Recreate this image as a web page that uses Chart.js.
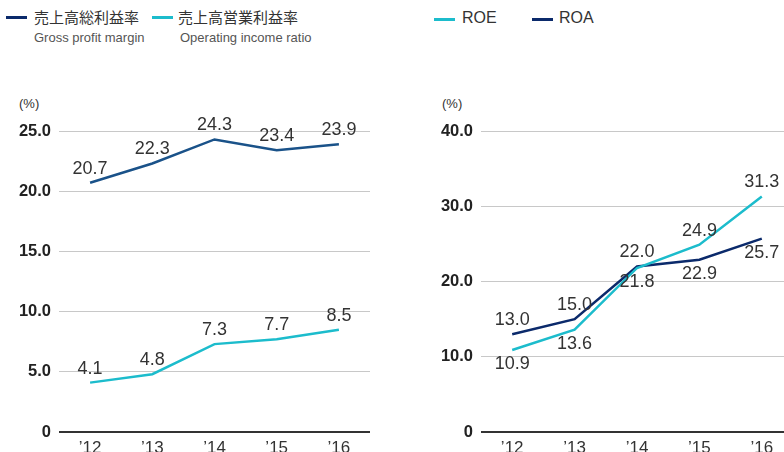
<!DOCTYPE html>
<html>
<head>
<meta charset="utf-8">
<script src="https://cdn.jsdelivr.net/npm/chart.js@4"></script>
<style>
  html, body { margin: 0; padding: 0; background: #fff; }
  body { width: 784px; height: 452px; overflow: hidden; position: relative;
         font-family: "Liberation Sans", Arial, sans-serif; color: #333; }
  canvas { position: absolute; top: 0; }
  .swatch { position: absolute; height: 3px; width: 21px; }
  .lbl { position: absolute; white-space: nowrap; }
  .jp { font-family: "Noto Sans CJK JP", sans-serif; font-size: 15px; color: #333; line-height: 18px; }
  .en { font-size: 13px; color: #555; line-height: 14px; }
  .unit { position: absolute; font-size: 13px; color: #333; }
</style>
</head>
<body>
<div class="swatch" style="left:6px;top:16px;background:#0b2a6b"></div>
<div class="lbl jp" style="left:34px;top:8px">売上高総利益率</div>
<div class="lbl en" style="left:34px;top:31px">Gross profit margin</div>
<div class="swatch" style="left:152px;top:16px;background:#1cbccc"></div>
<div class="lbl jp" style="left:178px;top:8px">売上高営業利益率</div>
<div class="lbl en" style="left:180px;top:31px">Operating income ratio</div>

<div class="swatch" style="left:434px;top:18px;background:#1cbccc"></div>
<div class="lbl" style="left:462px;top:9px;font-size:16px;color:#333">ROE</div>
<div class="swatch" style="left:532px;top:18px;background:#0b2a6b"></div>
<div class="lbl" style="left:559px;top:9px;font-size:16px;color:#333">ROA</div>

<div class="unit" style="left:19px;top:96px">(%)</div>
<div class="unit" style="left:442px;top:96px">(%)</div>

<canvas id="leftChart" width="372" height="470" style="left:0"></canvas>
<canvas id="rightChart" width="376" height="470" style="left:420px"></canvas>

<script>
const years = ['\u201912', '\u201913', '\u201914', '\u201915', '\u201916'];

const grossMargin = [20.7, 22.3, 24.3, 23.4, 23.9];
const operatingRatio = [4.1, 4.8, 7.3, 7.7, 8.5];
const roe = [10.9, 13.6, 21.8, 24.9, 31.3];
const roa = [13.0, 15.0, 22.0, 22.9, 25.7];

// where each value label sits relative to its point
const grossPos = ['above', 'above', 'above', 'above', 'above'];
const operatingPos = ['above', 'above', 'above', 'above', 'above'];
const roePos = ['below', 'below', 'below', 'above', 'above'];
const roaPos = ['above', 'above', 'above', 'below', 'below'];

const valueLabels = {
    id: 'valueLabels',
    afterDatasetsDraw(chart) {
        const ctx = chart.ctx;
        ctx.save();
        ctx.font = '18px "Liberation Sans", Arial, sans-serif';
        ctx.fillStyle = '#333';
        ctx.textAlign = 'center';
        chart.data.datasets.forEach((ds, i) => {
            const meta = chart.getDatasetMeta(i);
            meta.data.forEach((pt, j) => {
                const text = ds.data[j].toFixed(1);
                if (ds.labelPos[j] === 'above') {
                    ctx.textBaseline = 'bottom';
                    ctx.fillText(text, pt.x, pt.y - 5);
                } else {
                    ctx.textBaseline = 'top';
                    ctx.fillText(text, pt.x, pt.y + 5);
                }
            });
        });
        ctx.restore();
    }
};

function makeChart(id, datasets, max, step, yWidth, rightPad) {
    const ctx = document.getElementById(id).getContext('2d');
    return new Chart(ctx, {
        type: 'line',
        data: { labels: years, datasets: datasets },
        options: {
            responsive: false,
            animation: false,
            devicePixelRatio: 1,
            layout: { padding: { top: 131, right: rightPad, left: 0, bottom: 0 } },
            elements: { point: { radius: 0 }, line: { tension: 0, borderWidth: 2.5 } },
            plugins: { legend: { display: false }, tooltip: { enabled: false } },
            scales: {
                x: {
                    offset: true,
                    grid: { display: false, drawTicks: false },
                    border: { display: false },
                    ticks: { color: '#333', padding: 6, font: { size: 17, family: '"Liberation Sans", Arial, sans-serif' } },
                    afterFit: function (scale) { scale.height = 38; }
                },
                y: {
                    min: 0,
                    max: max,
                    border: { display: false },
                    grid: {
                        drawTicks: false,
                        color: c => c.tick.value === 0 ? '#333' : '#c8c8c8',
                        lineWidth: c => c.tick.value === 0 ? 2 : 1
                    },
                    ticks: {
                        stepSize: step,
                        padding: 8,
                        color: '#222',
                        font: { size: 16.5, weight: 'bold', family: '"Liberation Sans", Arial, sans-serif' },
                        callback: function (value) { return value === 0 ? '0' : value.toFixed(1); }
                    },
                    afterFit: function (scale) { scale.width = yWidth; }
                }
            }
        },
        plugins: [valueLabels]
    });
}

makeChart('leftChart', [
    { label: 'Gross profit margin', data: grossMargin, borderColor: '#1a5289', labelPos: grossPos },
    { label: 'Operating income ratio', data: operatingRatio, borderColor: '#1cbccc', labelPos: operatingPos }
], 25, 5, 59, 2);

makeChart('rightChart', [
    { label: 'ROE', data: roe, borderColor: '#1cbccc', labelPos: roePos },
    { label: 'ROA', data: roa, borderColor: '#0b2a6b', labelPos: roaPos }
], 40, 10, 61, 3);
</script>
</body>
</html>
